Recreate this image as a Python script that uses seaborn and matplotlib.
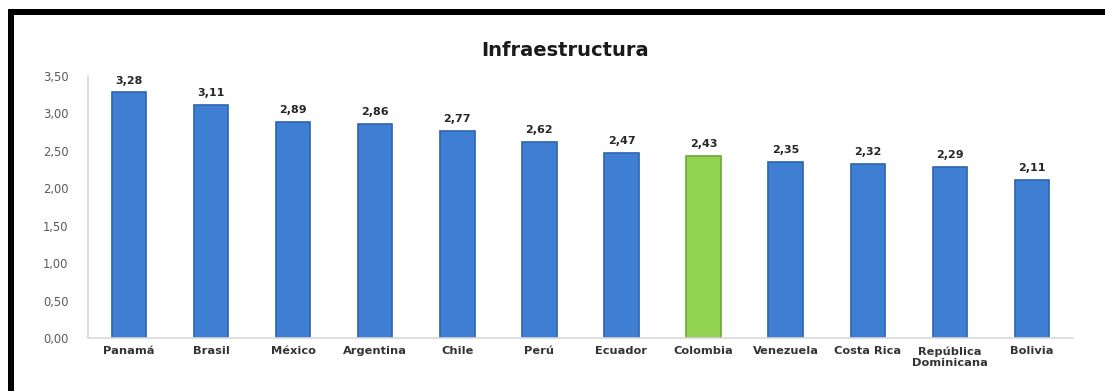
import matplotlib
matplotlib.use("Agg")
import matplotlib.pyplot as plt
import seaborn as sns
import pandas as pd
from matplotlib.patches import Rectangle

categories = ["Panamá", "Brasil", "México", "Argentina", "Chile", "Perú", "Ecuador",
              "Colombia", "Venezuela", "Costa Rica", "República\nDominicana", "Bolivia"]
values = [3.28, 3.11, 2.89, 2.86, 2.77, 2.62, 2.47, 2.43, 2.35, 2.32, 2.29, 2.11]
highlight = "Colombia"
yticks = [0.0, 0.5, 1.0, 1.5, 2.0, 2.5, 3.0, 3.5]
ytick_labels = ["0,00", "0,50", "1,00", "1,50", "2,00", "2,50", "3,00", "3,50"]
title = "Infraestructura"

sns.set_theme(style="white")
plt.rcParams["font.family"] = ["DejaVu Sans"]

df = pd.DataFrame({"pais": categories, "valor": values})
blue = "#3f7fd3"
green = "#92d451"
palette = {c: (green if c == highlight else blue) for c in categories}
edges = ["#6aa83a" if c == highlight else "#2d64ad" for c in categories]

fig = plt.figure(figsize=(11.05, 3.91), dpi=100)
ax = fig.add_axes([0.0796, 0.1355, 0.8914, 0.6701])

sns.barplot(data=df, x="pais", y="valor", hue="pais", palette=palette,
            legend=False, width=0.42, ax=ax, saturation=1)
for patch, ec in zip(ax.patches, edges):
    patch.set_edgecolor(ec)
    patch.set_linewidth(1.2)

for cont in ax.containers:
    lbls = [f"{v:.2f}".replace(".", ",") for v in cont.datavalues]
    ax.bar_label(cont, labels=lbls, padding=5, fontsize=8, fontweight="bold",
                 color="#262626")

ax.set_xlim(-0.5, len(categories) - 0.5)
ax.set_ylim(0, 3.5)
ax.set_yticks(yticks)
ax.set_yticklabels(ytick_labels, fontsize=8.3, color="#595959")
ax.tick_params(axis="x", labelsize=8.2, labelcolor="#333333", length=0, pad=6)
ax.tick_params(axis="y", length=0, pad=14)
for lbl in ax.get_xticklabels():
    lbl.set_fontweight("bold")
    lbl.set_linespacing(1.1)
    lbl.set_verticalalignment("top")
ax.set_xlabel("")
ax.set_ylabel("")
for s in ["top", "right"]:
    ax.spines[s].set_visible(False)
for s in ["left", "bottom"]:
    ax.spines[s].set_color("#d9d9d9")
    ax.spines[s].set_linewidth(1.2)

fig.text(0.511, 0.87, title, ha="center", va="center", fontsize=14,
         fontweight="bold", color="#1a1a1a")

# black frame (top and left edges)
fig.add_artist(Rectangle((8 / 1105, 0), 6 / 1105, 1 - 9 / 391,
                         transform=fig.transFigure, color="black", lw=0))
fig.add_artist(Rectangle((8 / 1105, 1 - 15 / 391), 1 - 8 / 1105, 6 / 391,
                         transform=fig.transFigure, color="black", lw=0))

fig.savefig("out.png", dpi=100)
